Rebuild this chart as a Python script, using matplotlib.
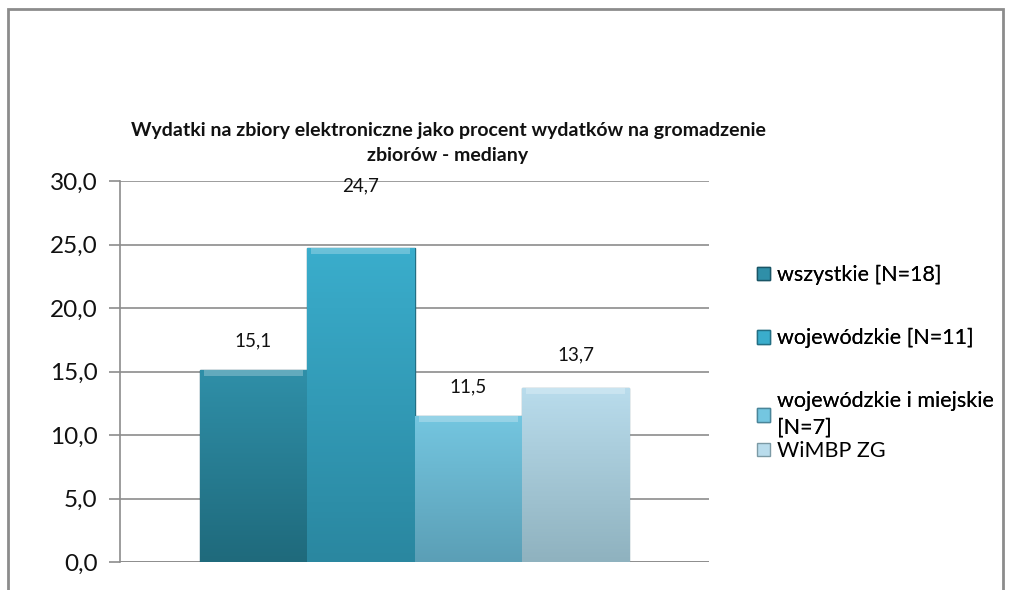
import matplotlib
matplotlib.use('Agg')
import matplotlib.pyplot as plt
import matplotlib.patches as mpatches
from matplotlib.colors import LinearSegmentedColormap
from matplotlib.ticker import FuncFormatter, MultipleLocator
import numpy as np

# dane
categories = ['wszystkie [N=18]', 'wojewódzkie [N=11]',
              'wojewódzkie i miejskie\n[N=7]', 'WiMBP ZG']
values = [15.1, 24.7, 11.5, 13.7]
title = 'Wydatki na zbiory elektroniczne jako procent wydatków na gromadzenie\nzbiorów - mediany'

# kolory (gora, dol) gradientu kazdego slupka
top_colors = ['#2f8fa8', '#3aadcc', '#74c6e0', '#b9dcec']
bottom_colors = ['#1f6a7c', '#2a87a0', '#5b9fb6', '#8fb2bf']
edge_colors = ['#1a5566', '#236f84', '#4a8599', '#7c9aa5']
# przesuniecie etykiet nad slupkami (pkt)
label_offsets = [15, 39, 15, 17.5]

plt.rcParams['font.family'] = ['Lato', 'DejaVu Sans']

fig = plt.figure(figsize=(10.13, 5.90), dpi=100)
ax = fig.add_axes([120/1013, 28/590, 589/1013, 381/590])

x = np.arange(len(values))
bars = ax.bar(x, values, width=1.0, color=top_colors, edgecolor=edge_colors,
              linewidth=1.0, zorder=3)

# gradient w slupkach
for bar, c_top, c_bot in zip(bars, top_colors, bottom_colors):
    cmap = LinearSegmentedColormap.from_list('g', [c_bot, c_top])
    x0, y0 = bar.get_x(), bar.get_y()
    w, h = bar.get_width(), bar.get_height()
    grad = np.linspace(0, 1, 100).reshape(-1, 1)
    im = ax.imshow(grad, cmap=cmap, aspect='auto', origin='lower',
                   extent=(x0, x0 + w, y0, y0 + h), zorder=3.5)
    im.set_clip_path(bar)
    # jasny pasek u gory (efekt fazy)
    ax.add_patch(mpatches.Rectangle((x0 + 0.04, y0 + h - 0.45), w - 0.08, 0.45,
                                    facecolor='white', alpha=0.25, lw=0, zorder=3.6))

for xi, v, off in zip(x, values, label_offsets):
    ax.annotate(f'{v:.1f}'.replace('.', ','), (xi, v), textcoords='offset points',
                xytext=(0, off), ha='center', va='bottom', fontsize=13.5, color='#111111')

ax.set_xlim(-1.24, 4.24)
ax.set_ylim(0, 30)
ax.yaxis.set_major_locator(MultipleLocator(5))
ax.yaxis.set_major_formatter(FuncFormatter(lambda v, p: f'{v:.1f}'.replace('.', ',')))
ax.set_xticks([])
ax.grid(axis='y', color='#8c8c8c', linewidth=1.2, zorder=0)
ax.set_axisbelow(True)
for s in ['top', 'right', 'bottom']:
    ax.spines[s].set_visible(False)
ax.spines['left'].set_color('#8c8c8c')
ax.spines['left'].set_linewidth(1.2)
ax.tick_params(axis='y', length=8, width=1.2, color='#8c8c8c', labelsize=17.5,
               pad=8, labelcolor='#111111')
ax.axhline(0, color='#8c8c8c', linewidth=1.2, zorder=2)

fig.text(448/1013, 1 - 143/590, title, ha='center', va='center',
         fontsize=14, fontweight='bold', color='#111111', linespacing=1.6)

# legenda
handles = [mpatches.Patch(facecolor=c, edgecolor=e) for c, e in zip(top_colors, edge_colors)]
leg1 = fig.legend(handles[:3], categories[:3], loc='upper left',
                  bbox_to_anchor=(757/1013, 1 - 265/590), frameon=False,
                  fontsize=15.5, labelspacing=2.0, handlelength=0.6, handleheight=0.6,
                  handletextpad=0.35, borderaxespad=0, borderpad=0)
leg1.get_texts()[2].set_linespacing(1.42)
fig.add_artist(leg1)
leg2 = fig.legend(handles[3:], categories[3:], loc='upper left',
                  bbox_to_anchor=(757/1013, 1 - 441/590), frameon=False,
                  fontsize=15.5, handlelength=0.6, handleheight=0.6,
                  handletextpad=0.35, borderaxespad=0, borderpad=0)

# ramka wykresu
fig.add_artist(mpatches.Rectangle((8/1013, -0.1), 995/1013, 1.1 - 9/590,
                                  transform=fig.transFigure, fill=False,
                                  edgecolor='#8c8c8c', linewidth=2))

fig.savefig('out.png', dpi=100)
